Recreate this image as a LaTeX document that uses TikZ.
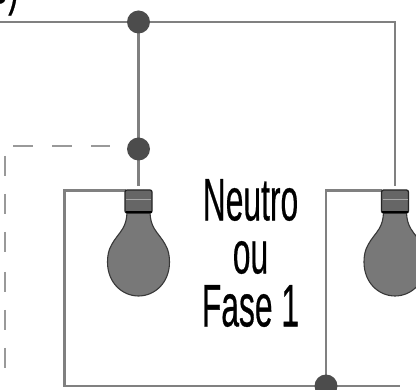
\documentclass[tikz,border=0pt]{standalone}
\usepackage{fontspec}
\setmainfont[FakeBold=0.6]{Liberation Sans}
\definecolor{wiregray}{gray}{0.50}
\definecolor{dashgray}{gray}{0.60}
\definecolor{jungray}{gray}{0.30}
\definecolor{bulbgray}{gray}{0.47}
\definecolor{bulbedge}{gray}{0.22}
\definecolor{capgray}{gray}{0.40}
\tikzset{
  x=1pt,y=-1pt,
  wire/.style={draw=wiregray,line width=2.2pt},
  dashwire/.style={draw=dashgray,line width=2.8pt},
  junction/.style={circle,fill=jungray,draw=none,minimum size=23pt,inner sep=0pt},
  bulbglass/.style={fill=bulbgray,draw=bulbedge,line width=1.1pt},
  capbox/.style={fill=capgray,draw=black!85,line width=1.3pt,rounded corners=2pt},
  lampword/.style={font=\fontsize{60}{53}\selectfont,xscale=0.53,inner sep=0pt,align=center}
}
\newcommand{\lamp}[1]{%
  \begin{scope}[shift={(#1,0)}]
    \draw[draw=gray!70,line width=1.2pt,fill=white] (-5,190) arc[start angle=180,end angle=0,radius=5];
    \path[bulbglass] (-11.5,213) .. controls (-12,220) and (-13,224) .. (-16,229)
      .. controls (-19,234) and (-24,239) .. (-27,245)
      .. controls (-30,250) and (-31,256) .. (-31,262)
      .. controls (-31,283) and (-16,296) .. (0,296)
      .. controls (16,296) and (31,283) .. (31,262)
      .. controls (31,256) and (30,250) .. (27,245)
      .. controls (24,239) and (19,234) .. (16,229)
      .. controls (13,224) and (12,220) .. (11.5,213) -- cycle;
    \path[capbox] (-13.5,190) rectangle (13.5,213);
    \draw[draw=black,line width=2pt] (-13,212) -- (13,212);
    \draw[draw=gray!70,line width=0.9pt] (-12.5,199) -- (12.5,199);
  \end{scope}}
\begin{document}
\begin{tikzpicture}
\useasboundingbox (0,0) rectangle (416,390);
\clip (0,0) rectangle (416,390);
\fill[white] (0,0) rectangle (416,390);
\node[lampword,anchor=base east] (frag) at (19,3) {e)};
\coordinate (tl) at (0,22);
\coordinate (tr) at (395,22);
\coordinate (rc) at (395,186);
\coordinate (lc) at (138.5,186);
\coordinate (l1) at (126,190.5);
\coordinate (c1) at (64.5,190.5);
\coordinate (c2) at (64.5,386);
\coordinate (c3) at (400,386);
\coordinate (r1) at (382,190.5);
\coordinate (r2) at (326,190.5);
\coordinate (j3c) at (326,386);
\draw[wire] (tl) -- (tr) -- (rc);
\draw[wire] (138.5,22) -- (lc);
\draw[wire] (l1) -- (c1) -- (c2) -- (c3);
\draw[wire] (r1) -- (r2) -- (j3c);
\node[junction] (j1) at (138.5,22) {};
\node[junction] (j2) at (138.5,149) {};
\node[junction] (j3) at (j3c) {};
\draw[dashwire] (13,146) -- (33,146);
\draw[dashwire] (52,146) -- (72,146);
\draw[dashwire] (91,146) -- (110,146);
\foreach \y in {156,194,232,272,310,348}
  \draw[dashwire] (5,\y) -- (5,\y+20);
\lamp{138.5}
\lamp{395}
\node[lampword,anchor=center] (label) at (250.5,253) {Neutro\\ou\\Fase 1};
\end{tikzpicture}
\end{document}
